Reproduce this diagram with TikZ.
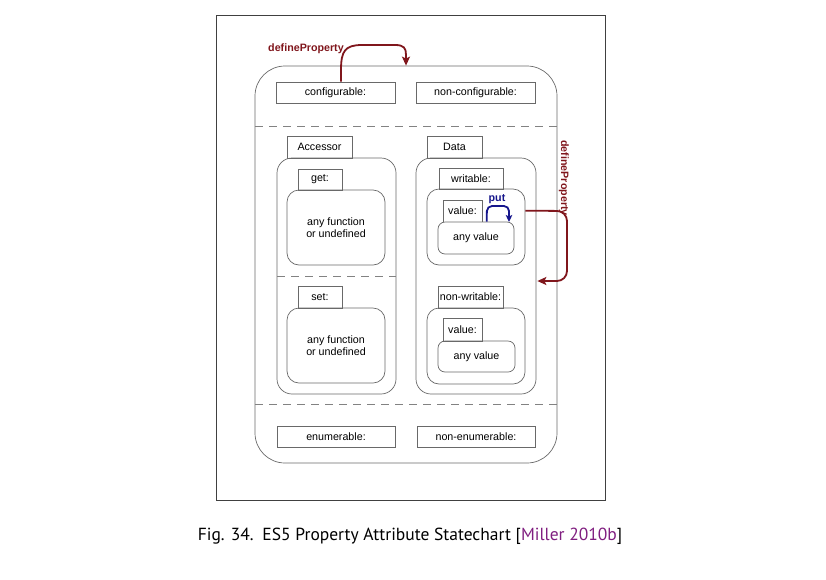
\documentclass[tikz,border=0pt]{standalone}
\usepackage{fontspec}
\setmainfont{Liberation Sans}
\newfontfamily\capfont{PT Sans}
\usetikzlibrary{arrows.meta,calc}
\definecolor{dpred}{RGB}{128,22,28}
\definecolor{putblue}{RGB}{22,22,140}
\definecolor{linegray}{RGB}{105,105,105}
\definecolor{dashgray}{RGB}{130,130,130}
\definecolor{citepurple}{RGB}{128,30,128}
\begin{document}
\begin{tikzpicture}[x=1pt,y=-1pt,
  font=\fontsize{10.7}{12}\selectfont,
  tabbox/.style={draw=linegray, line width=0.7, inner sep=0, minimum height=21},
  cont/.style={draw=linegray, line width=0.7, rounded corners=#1, inner sep=0},
  dashline/.style={draw=dashgray, line width=0.7, dash pattern=on 8pt off 6pt},
  redarrow/.style={draw=dpred, line width=1.8, -{Stealth[length=9pt,width=8pt,inset=2pt]}},
  bluearrow/.style={draw=putblue, line width=1.8, -{Stealth[length=7pt,width=6.5pt,inset=1.5pt]}},
  redlabel/.style={text=dpred, font=\fontsize{10.7}{12}\selectfont\bfseries},
  ]
\useasboundingbox (0,0) rectangle (826,579);
% outer frame
\node[draw=black!75, line width=0.9, inner sep=0, minimum width=389, minimum height=485] (frame) at (410.5,257.5) {};
% main container
\node[cont=30, minimum width=302, minimum height=397] (outer) at (406,264.5) {};
\node[tabbox, minimum width=119] (conf) at (335.5,92.5) {configurable:};
\node[tabbox, minimum width=119] (nconf) at (475.5,92.5) {non-configurable:};
\coordinate (d1l) at (255,126);
\coordinate (d1r) at (557,126);
\draw[dashline] (d1l) -- (d1r);
\coordinate (d2l) at (255,404);
\coordinate (d2r) at (557,404);
\draw[dashline] (d2l) -- (d2r);
\node[tabbox, minimum width=118] (enum) at (336,436.5) {enumerable:};
\node[tabbox, minimum width=118] (nenum) at (476,436.5) {non-enumerable:};
% Accessor
\node[tabbox, minimum width=65, minimum height=22] (acctab) at (319.5,147) {Accessor};
\node[cont=15, minimum width=119, minimum height=236] (accbox) at (336.5,276) {};
\node[tabbox, minimum width=44] (gettab) at (320,179.5) {get:};
\node[cont=12, minimum width=98, minimum height=75, align=center] (getbox) at (336,227.5) {any function\\or undefined};
\coordinate (d3l) at (277,276);
\coordinate (d3r) at (396,276);
\draw[dashline] (d3l) -- (d3r);
\node[tabbox, minimum width=44, minimum height=22] (settab) at (320,297) {set:};
\node[cont=12, minimum width=98, minimum height=75, align=center] (setbox) at (336,345.5) {any function\\or undefined};
% Data
\node[tabbox, minimum width=55, minimum height=22] (datatab) at (454.5,147) {Data};
\node[cont=15, minimum width=120, minimum height=236] (databox) at (476,276) {};
\node[tabbox, minimum width=64] (wtab) at (471,178.5) {writable:};
\node[cont=12, minimum width=98, minimum height=76] (wbox) at (476,227) {};
\node[tabbox, minimum width=39, minimum height=22] (vtab) at (462.5,211) {value:};
\node[cont=7, minimum width=76, minimum height=32, fill=white] (vbox) at (476,238) {any value};
\node[tabbox, minimum width=65, minimum height=22] (nwtab) at (470.5,297) {non-writable:};
\node[cont=12, minimum width=98, minimum height=76] (nwbox) at (476,346) {};
\node[tabbox, minimum width=39, minimum height=23] (vtab2) at (462.5,329.5) {value:};
\node[cont=7, minimum width=77, minimum height=31] (vbox2) at (476.5,356.5) {any value};
% defineProperty arrows
\node[redlabel] (dp1) at (306,49) {defineProperty};
\coordinate (cstart) at ([xshift=5.5pt]conf.north);
\draw[redarrow] (cstart) -- (341,70) .. controls (341,51) and (345,45) .. (362,45) -- (395,45) .. controls (404,45) and (406,48) .. (406,55) -- (outer.north);
\node[redlabel, rotate=-90] (dp2) at (564,178) {defineProperty};
\coordinate (wout) at ($(wbox.north east)+(0,22)$);
\coordinate (din) at ($(databox.east)+(1,5)$);
\draw[redarrow, rounded corners=10] (wout) -- (567,211) -- (567,281) -- (din);
% put
\node[text=putblue, font=\fontsize{10.7}{12}\selectfont\bfseries] (put) at (497,199) {put};
\coordinate (pstart) at ([xshift=49pt]vbox.north west);
\coordinate (pin) at (509,222);
\draw[bluearrow, rounded corners=5] (pstart) -- (487,206) -- (509,206) -- (pin);
% caption
\node[font=\capfont\fontsize{17.5}{21}\selectfont] (caption) at (410,536) {Fig. 34.\enspace ES5 Property Attribute Statechart [{\color{citepurple}Miller 2010b}]};
\end{tikzpicture}
\end{document}
